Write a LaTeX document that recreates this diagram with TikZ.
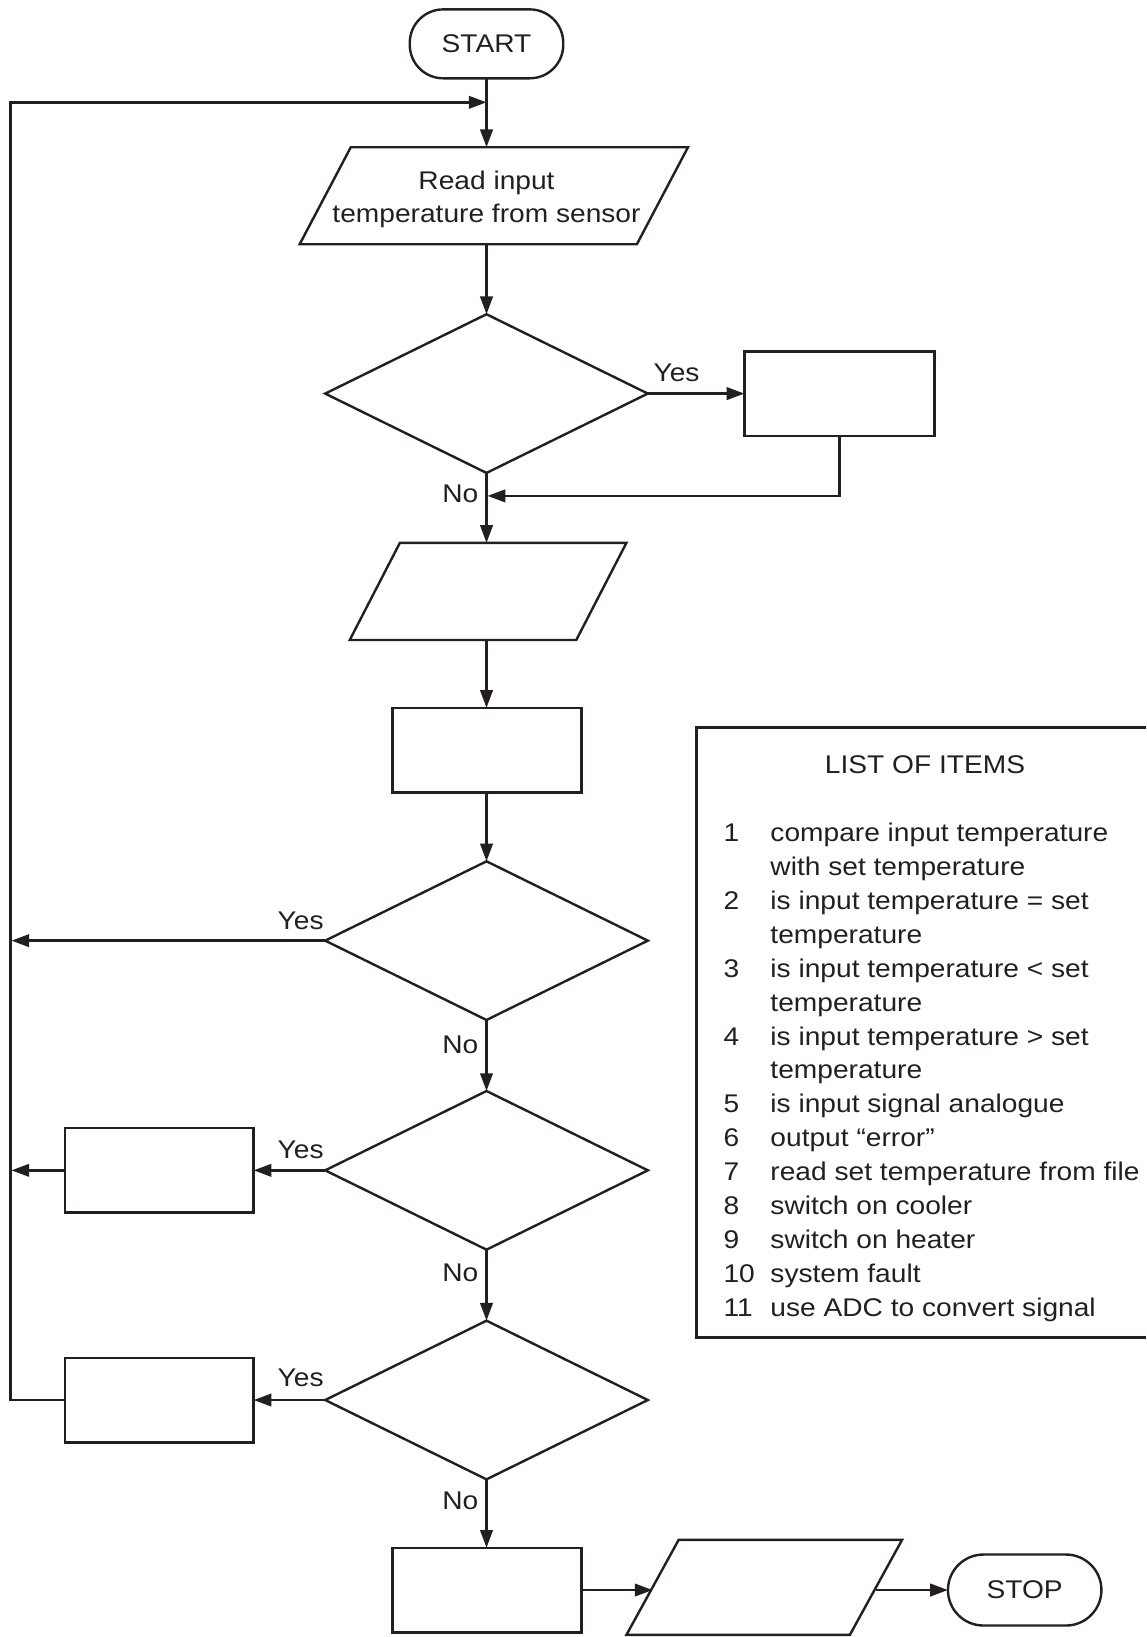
\documentclass[tikz,border=0pt]{standalone}
\usepackage{fontspec}
\setmainfont{Liberation Sans}[FakeStretch=1.1]
\usetikzlibrary{arrows.meta,calc,shapes.geometric}
\definecolor{ink}{RGB}{35,31,32}
\newcommand\drawparal[2]{\draw[line] ($(#1.south west)+(-#2pt,0pt)$) -- ($(#1.north west)+(#2pt,0pt)$) -- ($(#1.north east)+(#2pt,0pt)$) -- ($(#1.south east)+(-#2pt,0pt)$) -- cycle;}
\begin{document}
\begin{tikzpicture}[x=1pt,y=-1pt,
  every node/.style={font=\fontsize{24.5}{32.5}\selectfont, text=ink, inner sep=0pt, outer sep=0pt},
  line/.style={draw=ink, line width=2.3pt},
  arr/.style={line, -{Triangle[length=17pt,width=12pt]}},
  term/.style={line, rectangle, rounded corners=32pt, minimum width=147pt, minimum height=66pt},
  procbox/.style={line, rectangle, minimum width=181pt, minimum height=81pt},
  decision/.style={line, diamond, minimum width=309pt, minimum height=152pt},
  paranode/.style={rectangle, minimum height=93pt}]
\useasboundingbox (0,0) rectangle (1098,1568);

% nodes
\node[term] (startn) at (466,42) {START};
\node[paranode, minimum width=323pt] (p1) at (473,187.5) {};
\node[align=center] (p1text) at (466,191) {Read input\\temperature from sensor};
\node[decision] (d1) at (466,377) {};
\node[procbox, minimum width=182pt] (box1) at (804,377) {};
\node[paranode, minimum width=217pt] (p2) at (467.5,566.5) {};
\node[procbox] (box2) at (466.5,718.5) {};
\node[decision] (d2) at (466,901) {};
\node[decision] (d3) at (466,1121) {};
\node[procbox] (box3) at (152.5,1121) {};
\node[decision] (d4) at (466,1341) {};
\node[procbox] (box4) at (152.5,1341) {};
\node[procbox] (box5) at (466.5,1523) {};
\node[paranode, minimum width=214pt, minimum height=91pt] (p3) at (732,1520.5) {};
\node[term, minimum height=68pt, rounded corners=34pt] (stopn) at (981.5,1523) {STOP};

\drawparal{p1}{24.5}
\drawparal{p2}{24}
\drawparal{p3}{25}

\coordinate (j0) at (466,98);
\coordinate (j1) at (466,475);
\coordinate (lft) at (10,1341);

% connectors
\draw[arr] (startn) -- (startn |- p1.north);
\draw[arr] (box4.west) -- (lft) |- (j0);
\draw[arr] (p1.south -| startn) -- (d1.north);
\draw[arr] (d1.east) -- (box1.west);
\draw[arr, shorten >=1pt] (box1.south) |- (j1);
\draw[arr] (d1.south) -- (d1.south |- p2.north);
\draw[arr] (p2.south -| d1.south) -- (d1.south |- box2.north);
\draw[arr] (box2.south -| d2.north) -- (d2.north);
\draw[arr, shorten >=1pt] (d2.west) -- (d2.west -| lft);
\draw[arr] (d2.south) -- (d3.north);
\draw[arr] (d3.west) -- (box3.east);
\draw[arr, shorten >=1pt] (box3.west) -- (box3.west -| lft);
\draw[arr] (d3.south) -- (d4.north);
\draw[arr] (d4.west) -- (box4.east);
\draw[arr] (d4.south) -- (d4.south |- box5.north);
\draw[arr] (box5.east) -- (box5.east -| p3.west);
\draw[arr] (p3.east |- stopn) -- (stopn.west);

% labels
\node (yes1) at (648,357) {Yes};
\node (no1) at (441,473) {No};
\node (yes2) at (288,882) {Yes};
\node (no2) at (441,1001) {No};
\node (yes3) at (288,1101) {Yes};
\node (no3) at (441,1219) {No};
\node (yes4) at (288,1320) {Yes};
\node (no4) at (441,1438) {No};

% list of items
\draw[line] (1098,697) -- (667,697) -- (667,1281) -- (1098,1281);
\node (listtitle) at (886,732) {LIST OF ITEMS};
\node[anchor=base west] (items) at (693,806) {%
\begin{tabular}[t]{@{}l@{}l@{}}
\makebox[45pt][l]{1} & compare input temperature\\
 & with set temperature\\
\makebox[45pt][l]{2} & is input temperature = set\\
 & temperature\\
\makebox[45pt][l]{3} & is input temperature < set\\
 & temperature\\
\makebox[45pt][l]{4} & is input temperature > set\\
 & temperature\\
\makebox[45pt][l]{5} & is input signal analogue\\
\makebox[45pt][l]{6} & output “error”\\
\makebox[45pt][l]{7} & read set temperature from file\\
\makebox[45pt][l]{8} & switch on cooler\\
\makebox[45pt][l]{9} & switch on heater\\
\makebox[45pt][l]{10} & system fault\\
\makebox[45pt][l]{11} & use ADC to convert signal
\end{tabular}};
\end{tikzpicture}
\end{document}
